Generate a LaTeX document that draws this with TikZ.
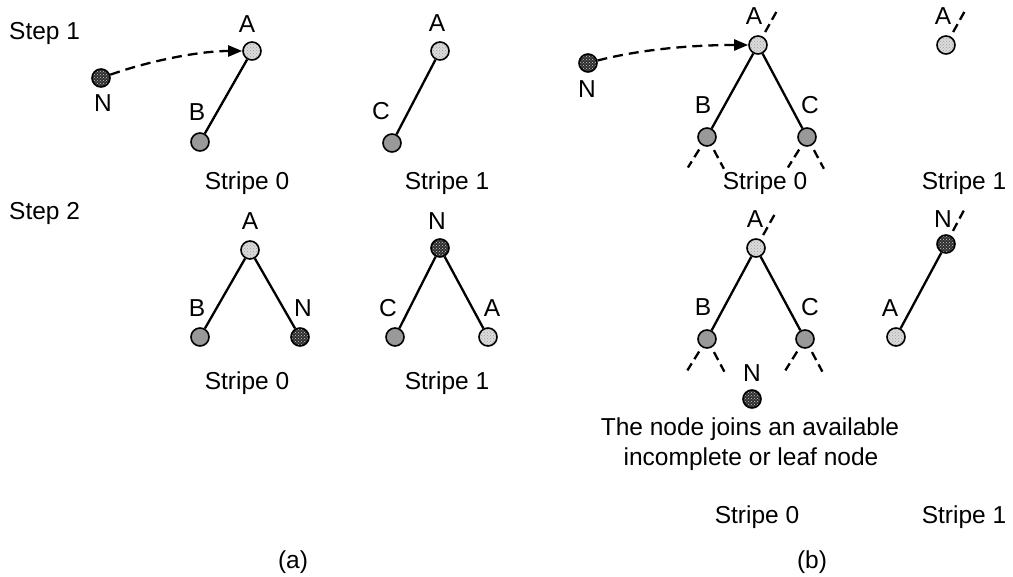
\documentclass[tikz,border=0pt]{standalone}
\usepackage{fontspec}
\setmainfont{Liberation Sans}
\usetikzlibrary{arrows.meta,calc,patterns}
\begin{document}
\begin{tikzpicture}[x=1pt,y=-1pt,
  txt/.style={font=\fontsize{24.5pt}{27pt}\selectfont, inner sep=0pt, anchor=base},
  peer/.style={circle, draw, line width=1.6pt, minimum size=18pt, inner sep=0pt},
  oldpeer/.style={peer, fill=black!40},
  rootpeer/.style={peer, preaction={fill=black!14}, pattern=crosshatch dots, pattern color=black!38},
  newpeer/.style={peer, preaction={fill=black!82}, pattern=crosshatch dots, pattern color=white!80!black},
  edge/.style={line width=2.3pt},
  stub/.style={line width=2.3pt, dash pattern=on 9pt off 5pt, shorten <=5pt},
  jump/.style={line width=2.3pt, dash pattern=on 10pt off 6pt, -{Triangle[length=14pt,width=11pt]}}
]
\useasboundingbox (0,0) rectangle (1013,577);

% ---------------- (a) ----------------
\node[txt, anchor=base west] (step1) at (9,40) {Step 1};
\node[txt, anchor=base west] (step2) at (9,220) {Step 2};

% step 1, stripe 0
\node[newpeer]  (aN1) at (101,78) {};
\node[txt] (aN1l) at (103,112) {N};
\node[rootpeer] (aA1) at (252,51) {};
\node[txt] (aA1l) at (247,33) {A};
\node[oldpeer]  (aB1) at (200,142) {};
\node[txt] (aB1l) at (197,121) {B};
\draw[edge] (aA1) -- (aB1);
\draw[jump] (aN1) .. controls +(45pt,16pt) and +(-55pt,0pt) .. (aA1);
\node[txt] (aS01) at (247,190) {Stripe 0};

% step 1, stripe 1
\node[rootpeer] (aA1s) at (440,51) {};
\node[txt] (aA1sl) at (437,32) {A};
\node[oldpeer]  (aC1) at (392,143) {};
\node[txt] (aC1l) at (381,120) {C};
\draw[edge] (aA1s) -- (aC1);
\node[txt] (aS11) at (447,190) {Stripe 1};

% step 2, stripe 0
\node[rootpeer] (aA2) at (250,250) {};
\node[txt] (aA2l) at (250,230) {A};
\node[oldpeer]  (aB2) at (200,337) {};
\node[txt] (aB2l) at (197,317) {B};
\node[newpeer]  (aN2) at (300,337) {};
\node[txt] (aN2l) at (303,317) {N};
\draw[edge] (aA2) -- (aB2);
\draw[edge] (aA2) -- (aN2);
\node[txt] (aS02) at (247,390) {Stripe 0};

% step 2, stripe 1
\node[newpeer]  (aN2s) at (440,248) {};
\node[txt] (aN2sl) at (437,230) {N};
\node[oldpeer]  (aC2) at (395,337) {};
\node[txt] (aC2l) at (388,317) {C};
\node[rootpeer] (aA2s) at (488,337) {};
\node[txt] (aA2sl) at (492,317) {A};
\draw[edge] (aN2s) -- (aC2);
\draw[edge] (aN2s) -- (aA2s);
\node[txt] (aS12) at (447,390) {Stripe 1};

\node[txt] (capa) at (293,568) {(a)};

% ---------------- (b) ----------------
% step 1, stripe 0
\node[newpeer]  (bN1) at (588,63) {};
\node[txt] (bN1l) at (587,98) {N};
\node[rootpeer] (bA1) at (758,45) {};
\node[txt] (bA1l) at (754,25) {A};
\node[oldpeer]  (bB1) at (707,137) {};
\node[txt] (bB1l) at (703,114) {B};
\node[oldpeer]  (bC1) at (807,137) {};
\node[txt] (bC1l) at (810,114) {C};
\draw[edge] (bA1) -- (bB1);
\draw[edge] (bA1) -- (bC1);
\draw[jump] (bN1) .. controls +(50pt,13pt) and +(-70pt,0pt) .. (bA1);
\coordinate (bA1u) at ($(bA1)+(61:42pt)$);
\coordinate (bB1l1) at ($(bB1)+(238:36pt)$);
\coordinate (bB1r1) at ($(bB1)+(298:36pt)$);
\coordinate (bC1l1) at ($(bC1)+(238:36pt)$);
\coordinate (bC1r1) at ($(bC1)+(298:36pt)$);
\draw[stub] (bA1) -- (bA1u);
\draw[stub] (bB1) -- (bB1l1);
\draw[stub] (bB1) -- (bB1r1);
\draw[stub] (bC1) -- (bC1l1);
\draw[stub] (bC1) -- (bC1r1);
\node[txt] (bS01) at (765,190) {Stripe 0};

% step 1, stripe 1
\node[rootpeer] (bA1s) at (946,45) {};
\node[txt] (bA1sl) at (943,25) {A};
\coordinate (bA1su) at ($(bA1s)+(61:42pt)$);
\draw[stub] (bA1s) -- (bA1su);
\node[txt] (bS11) at (964,190) {Stripe 1};

% step 2, stripe 0
\node[rootpeer] (bA2) at (756,248) {};
\node[txt] (bA2l) at (755,228) {A};
\node[oldpeer]  (bB2) at (707,339) {};
\node[txt] (bB2l) at (703,316) {B};
\node[oldpeer]  (bC2) at (805,339) {};
\node[txt] (bC2l) at (810,316) {C};
\draw[edge] (bA2) -- (bB2);
\draw[edge] (bA2) -- (bC2);
\coordinate (bA2u) at ($(bA2)+(61:42pt)$);
\coordinate (bB2l1) at ($(bB2)+(238:37pt)$);
\coordinate (bB2r1) at ($(bB2)+(298:37pt)$);
\coordinate (bC2l1) at ($(bC2)+(238:37pt)$);
\coordinate (bC2r1) at ($(bC2)+(298:37pt)$);
\draw[stub] (bA2) -- (bA2u);
\draw[stub] (bB2) -- (bB2l1);
\draw[stub] (bB2) -- (bB2r1);
\draw[stub] (bC2) -- (bC2l1);
\draw[stub] (bC2) -- (bC2r1);
\node[newpeer]  (bN2) at (752,399) {};
\node[txt] (bN2l) at (752,382) {N};
\node[txt] (note1) at (750,436) {The node joins an available};
\node[txt] (note2) at (751,465) {incomplete or leaf node};
\node[txt] (bS02) at (757,523) {Stripe 0};

% step 2, stripe 1
\node[newpeer]  (bN2s) at (946,244) {};
\node[txt] (bN2sl) at (943,228) {N};
\node[rootpeer] (bA2s) at (896,337) {};
\node[txt] (bA2sl) at (890,317) {A};
\draw[edge] (bN2s) -- (bA2s);
\coordinate (bN2su) at ($(bN2s)+(62:42pt)$);
\draw[stub] (bN2s) -- (bN2su);
\node[txt] (bS12) at (964,523) {Stripe 1};

\node[txt] (capb) at (812,568) {(b)};
\end{tikzpicture}
\end{document}
